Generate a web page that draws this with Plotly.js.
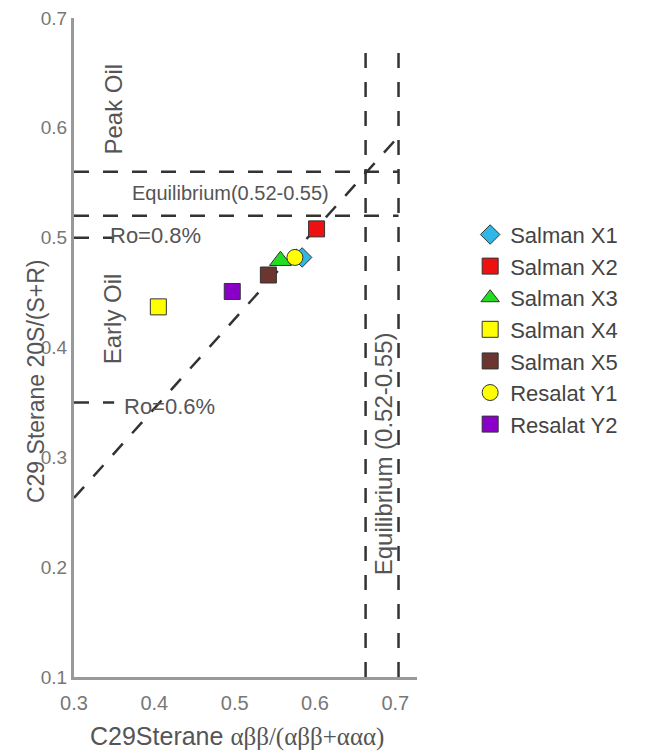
<!DOCTYPE html>
<html>
<head>
<meta charset="utf-8">
<script src="https://cdn.plot.ly/plotly-3.0.1.min.js"></script>
<style>html,body{margin:0;padding:0;background:#fff;}#chart{width:645px;height:752px;}</style>
</head>
<body>
<div id="chart"></div>
<script>
// ---- data ----
var sampleNames = ["Salman X1","Salman X2","Salman X3","Salman X4","Salman X5","Resalat Y1","Resalat Y2"];
var abbRatio   = [0.584, 0.602, 0.557, 0.405, 0.542, 0.575, 0.497];   // C29 Sterane αββ/(αββ+ααα)
var sRatio     = [0.482, 0.508, 0.479, 0.437, 0.466, 0.482, 0.451];   // C29 Sterane 20S/(S+R)
var markerSymbols = ["diamond","square","triangle-up","square","square","circle","square"];
var markerColors  = ["#2FB8E6","#EE1111","#22DD22","#FFFF00","#6B3530","#FFFF00","#8A00C8"];
var markerSizes   = [15, 16, 19, 16, 16, 16, 16];

var xTicks = [0.3, 0.4, 0.5, 0.6, 0.7];
var yTicks = [0.1, 0.2, 0.3, 0.4, 0.5, 0.6, 0.7];

// reference lines
var eqX = [0.663, 0.704];        // vertical equilibrium band (x)
var eqY = [0.52, 0.56];          // horizontal equilibrium band (y)
var roLevels = [0.5, 0.35];      // Ro = 0.8%, Ro = 0.6%
var trendX = [0.3, 0.71];
var trendY = [0.263, 0.597];

var FONT = "Liberation Sans, Arial, sans-serif";
var dashStyle = {color: "#333", width: 2.5, dash: "15px,14px"};

var traces = [{
  type: "scatter", mode: "lines", x: trendX, y: trendY, showlegend: false, hoverinfo: "skip",
  line: dashStyle
}];
for (var i = 0; i < sampleNames.length; i++) {
  traces.push({
    type: "scatter", mode: "markers",
    x: [abbRatio[i]], y: [sRatio[i]],
    name: sampleNames[i],
    marker: {symbol: markerSymbols[i], color: markerColors[i], size: markerSizes[i],
             line: {color: "#333", width: 1}}
  });
}

var shapes = [];
eqX.forEach(function (xv) {
  shapes.push({type: "line", xref: "x", yref: "y", x0: xv, x1: xv, y0: 0.1, y1: 0.678, line: dashStyle});
});
eqY.forEach(function (yv) {
  shapes.push({type: "line", xref: "x", yref: "y", x0: 0.3, x1: eqX[1], y0: yv, y1: yv, line: dashStyle});
});
roLevels.forEach(function (yv) {
  shapes.push({type: "line", xref: "x", yref: "y", x0: 0.3, x1: 0.35, y0: yv, y1: yv, line: dashStyle});
});

function f(sz) { return {family: FONT, color: "#555", size: sz}; }

var annotations = [
  {text: "Peak Oil", x: 0.349, y: 0.617, xref: "x", yref: "y", textangle: -90, showarrow: false, font: f(24)},
  {text: "Early Oil", x: 0.349, y: 0.426, xref: "x", yref: "y", textangle: -90, showarrow: false, font: f(24)},
  {text: "Equilibrium(0.52-0.55)", x: 0.495, y: 0.541, xref: "x", yref: "y", showarrow: false, font: f(20)},
  {text: "Ro=0.8%", x: 0.342, y: 0.502, xref: "x", yref: "y", xanchor: "left", showarrow: false, font: f(22)},
  {text: "Ro=0.6%", x: 0.360, y: 0.346, xref: "x", yref: "y", xanchor: "left", showarrow: false, font: f(22)},
  {text: "Equilibrium (0.52-0.55)", x: 0.685, y: 0.303, xref: "x", yref: "y", textangle: -90, showarrow: false, font: f(24)},
  {text: "C29 Sterane 20S/(S+R)", x: -0.111, y: 0.449, xref: "paper", yref: "paper",
   xanchor: "center", yanchor: "middle", textangle: -90, showarrow: false, font: f(23)},
  {text: "C29Sterane <span style='font-family:Liberation Serif, Times New Roman, serif'>αββ/(αββ+ααα)</span>",
   x: 0.475, y: -0.091, xref: "paper", yref: "paper", xanchor: "center", yanchor: "middle",
   showarrow: false, font: f(25)}
];

var layout = {
  width: 645, height: 752,
  margin: {l: 74, r: 228, t: 18, b: 75},
  paper_bgcolor: "#fff", plot_bgcolor: "#fff",
  showlegend: true,
  legend: {x: 1.155, y: 0.703, xanchor: "left", yanchor: "top",
           font: {family: FONT, size: 22, color: "#444"},
           itemwidth: 30, tracegroupgap: 0},
  xaxis: {range: [0.3, 0.727], tickvals: xTicks, ticktext: xTicks.map(function(v){return v.toFixed(1);}),
          showgrid: false, zeroline: false, showline: true, linecolor: "#999", linewidth: 3,
          ticks: "", ticklabelstandoff: 6,
          tickfont: {family: FONT, size: 20, color: "#777"}},
  yaxis: {range: [0.1, 0.7], tickvals: yTicks, ticktext: yTicks.map(function(v){return v.toFixed(1);}),
          showgrid: false, zeroline: false, showline: true, linecolor: "#999", linewidth: 3,
          ticks: "", ticklabelstandoff: 0,
          tickfont: {family: FONT, size: 19, color: "#777"}},
  shapes: shapes,
  annotations: annotations
};

Plotly.newPlot("chart", traces, layout, {displayModeBar: false, staticPlot: true});
</script>
</body>
</html>
